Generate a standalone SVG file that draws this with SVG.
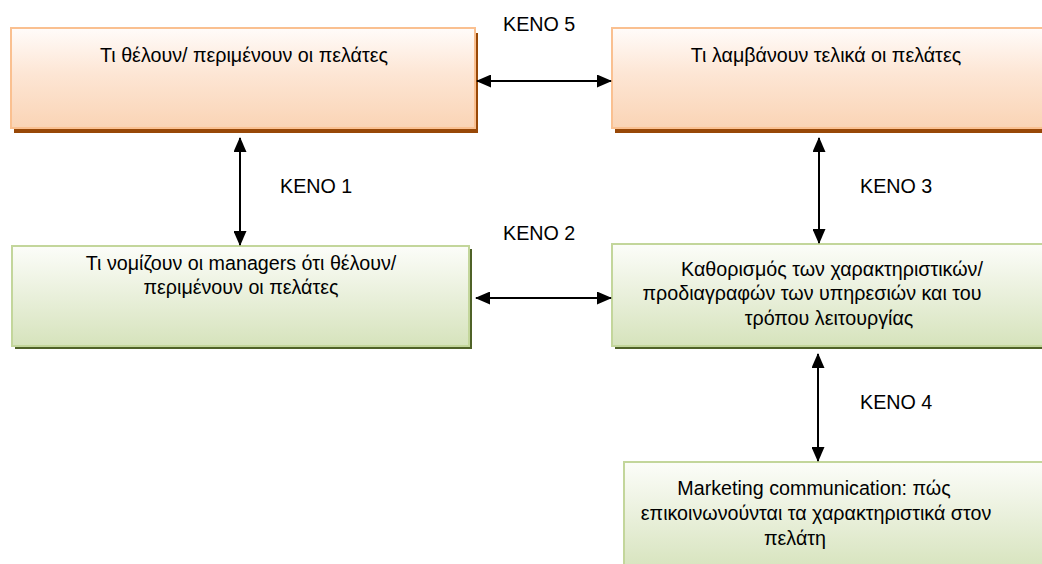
<svg xmlns="http://www.w3.org/2000/svg" width="1042" height="564" viewBox="0 0 1042 564">
<defs>
<linearGradient id="gO" x1="0" y1="0" x2="0" y2="1">
<stop offset="0" stop-color="#FFFCFA"/>
<stop offset="0.45" stop-color="#FDE6D5"/>
<stop offset="1" stop-color="#FAD4B5"/>
</linearGradient>
<linearGradient id="gG" x1="0" y1="0" x2="0" y2="1">
<stop offset="0" stop-color="#FCFDF9"/>
<stop offset="0.45" stop-color="#EBF1DE"/>
<stop offset="1" stop-color="#D6E3BC"/>
</linearGradient>
<marker id="ah" viewBox="0 0 15 13" refX="14" refY="6.5" markerWidth="15" markerHeight="13" markerUnits="userSpaceOnUse" orient="auto-start-reverse">
<path d="M0,0 L15,6.5 L0,13 Z" fill="#000"/>
</marker>
</defs>
<style>
text{font-family:"Liberation Sans",Arial,sans-serif;font-size:19.7px;fill:#000}
.c{text-anchor:middle}
.shO{fill:#984807}
.shG{fill:#4F6228}
.bO{fill:url(#gO);stroke:#FAC090;stroke-width:2}
.bG{fill:url(#gG);stroke:#C3D69B;stroke-width:2}
.ln{stroke:#000;stroke-width:2;fill:none;marker-start:url(#ah);marker-end:url(#ah)}
</style>
<rect width="1042" height="564" fill="#fff"/>
<g id="n1">
<rect class="shO" x="14" y="33" width="464" height="100"/>
<rect class="bO" x="11" y="28" width="464" height="100"/>
<text class="c" x="244" y="62">Τι θέλουν/ περιμένουν οι πελάτες</text>
</g>
<g id="n2">
<rect class="shO" x="615" y="33" width="440" height="100"/>
<rect class="bO" x="612" y="28" width="440" height="100"/>
<text class="c" x="826" y="62">Τι λαμβάνουν τελικά οι πελάτες</text>
</g>
<g id="n3">
<rect class="shG" x="15" y="249" width="457" height="100"/>
<rect class="bG" x="12" y="246" width="457" height="100"/>
<text class="c" x="241" y="270">Τι νομίζουν οι managers ότι θέλουν/</text>
<text class="c" x="241" y="294">περιμένουν οι πελάτες</text>
</g>
<g id="n4">
<rect class="shG" x="615" y="248" width="440" height="101"/>
<rect class="bG" x="612" y="244" width="440" height="102"/>
<text class="c" x="832" y="276">Καθορισμός των χαρακτηριστικών/</text>
<text class="c" x="812" y="300">προδιαγραφών των υπηρεσιών και του</text>
<text class="c" x="829" y="325">τρόπου λειτουργίας</text>
</g>
<g id="n5">
<rect class="shG" x="627" y="466" width="430" height="110"/>
<rect class="bG" x="624" y="462" width="430" height="110"/>
<text class="c" x="814" y="495">Marketing communication: πώς</text>
<text class="c" x="816" y="520">επικοινωνούνται τα χαρακτηριστικά στον</text>
<text class="c" x="795" y="545">πελάτη</text>
</g>
<g id="connectors">
<line class="ln" x1="477" y1="81" x2="611" y2="81"/>
<line class="ln" x1="476" y1="298" x2="611" y2="298"/>
<line class="ln" x1="240" y1="138" x2="240" y2="245"/>
<line class="ln" x1="819" y1="138" x2="819" y2="243"/>
<line class="ln" x1="818" y1="354" x2="818" y2="461"/>
</g>
<g id="labels">
<text x="503" y="31">KENO 5</text>
<text x="280" y="193">KENO 1</text>
<text x="860" y="193">KENO 3</text>
<text x="503" y="240">KENO 2</text>
<text x="860" y="409">KENO 4</text>
</g>
</svg>
